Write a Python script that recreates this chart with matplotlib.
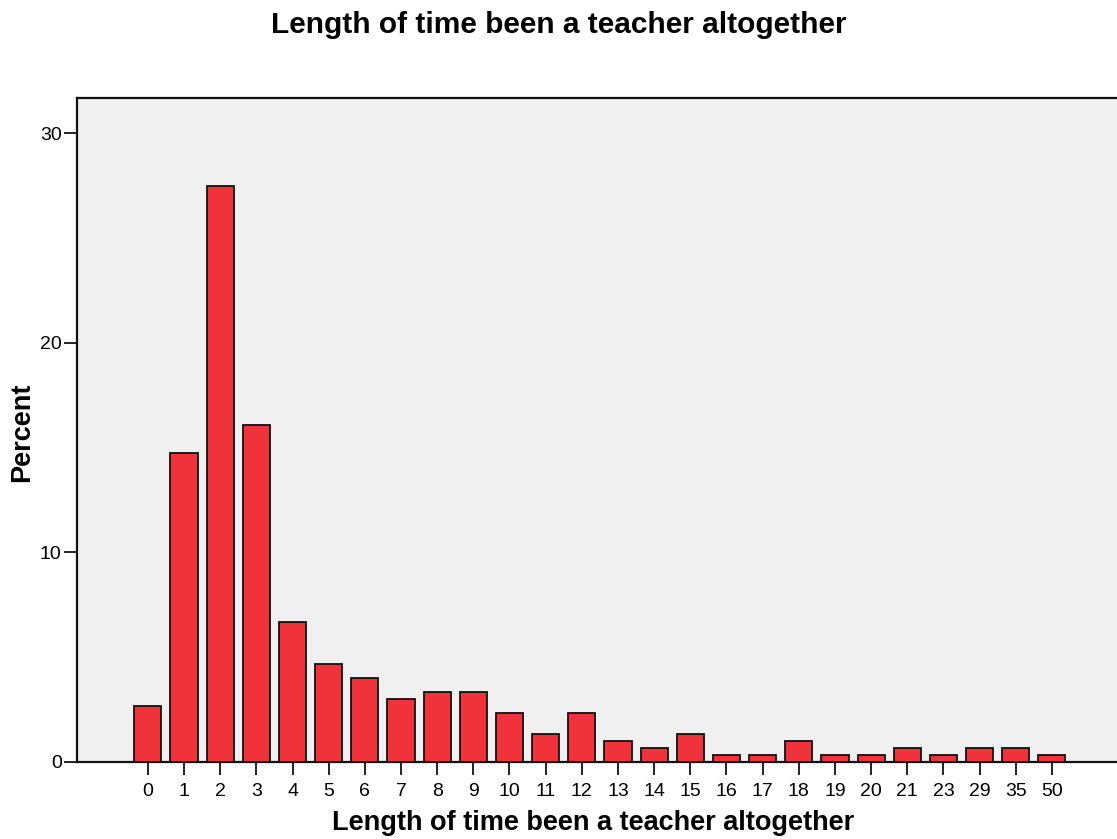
import matplotlib
matplotlib.use("Agg")
import matplotlib.pyplot as plt
import numpy as np

plt.rcParams['font.family'] = ['Liberation Sans', 'DejaVu Sans']

categories = ["0", "1", "2", "3", "4", "5", "6", "7", "8", "9", "10", "11", "12",
              "13", "14", "15", "16", "17", "18", "19", "20", "21", "23", "29", "35", "50"]
percent = [2.67, 14.73, 27.47, 16.07, 6.69, 4.68, 4.01, 3.01, 3.34, 3.34, 2.34, 1.34, 2.34,
           1.00, 0.67, 1.34, 0.33, 0.33, 1.00, 0.33, 0.33, 0.67, 0.33, 0.67, 0.67, 0.33]
yticks = [0, 10, 20, 30]

title = "Length of time been a teacher altogether"
xlabel = "Length of time been a teacher altogether"
ylabel = "Percent"

W, H = 1117, 839
fig = plt.figure(figsize=(W / 100, H / 100), dpi=100)
ax = fig.add_axes([77 / W, 1 - 762 / H, 1 - 77 / W, (762 - 98) / H])
ax.set_facecolor("#F0F0F0")

x = np.arange(len(categories))
ax.bar(x, percent, width=0.75, color="#F0333A", edgecolor="#111111", linewidth=1.3, zorder=3)

ax.set_xlim(-1.96, 26.8)
ax.set_ylim(0, 31.68)
ax.set_xticks(x)
ax.set_xticklabels(categories)
ax.set_yticks(yticks)
ax.set_yticklabels([str(v) for v in yticks])
ax.tick_params(axis='x', length=9, width=1.3, pad=6, labelsize=14, color="#111111")
ax.tick_params(axis='y', length=9.5, width=1.3, pad=1.5, labelsize=14, color="#111111")

for s in ["left", "bottom", "top"]:
    ax.spines[s].set_linewidth(1.6)
    ax.spines[s].set_color("#111111")
ax.spines["right"].set_visible(False)

fig.text(0.5, 1 - 25 / H, title, ha='center', va='center', fontsize=21.5, fontweight='bold')
fig.text(593 / W, 1 - 823 / H, xlabel, ha='center', va='center', fontsize=19.5, fontweight='bold')
fig.text(22 / W, 1 - 432 / H, ylabel, ha='center', va='center', fontsize=19.5, fontweight='bold', rotation=90)

fig.savefig("out.png", dpi=100)
